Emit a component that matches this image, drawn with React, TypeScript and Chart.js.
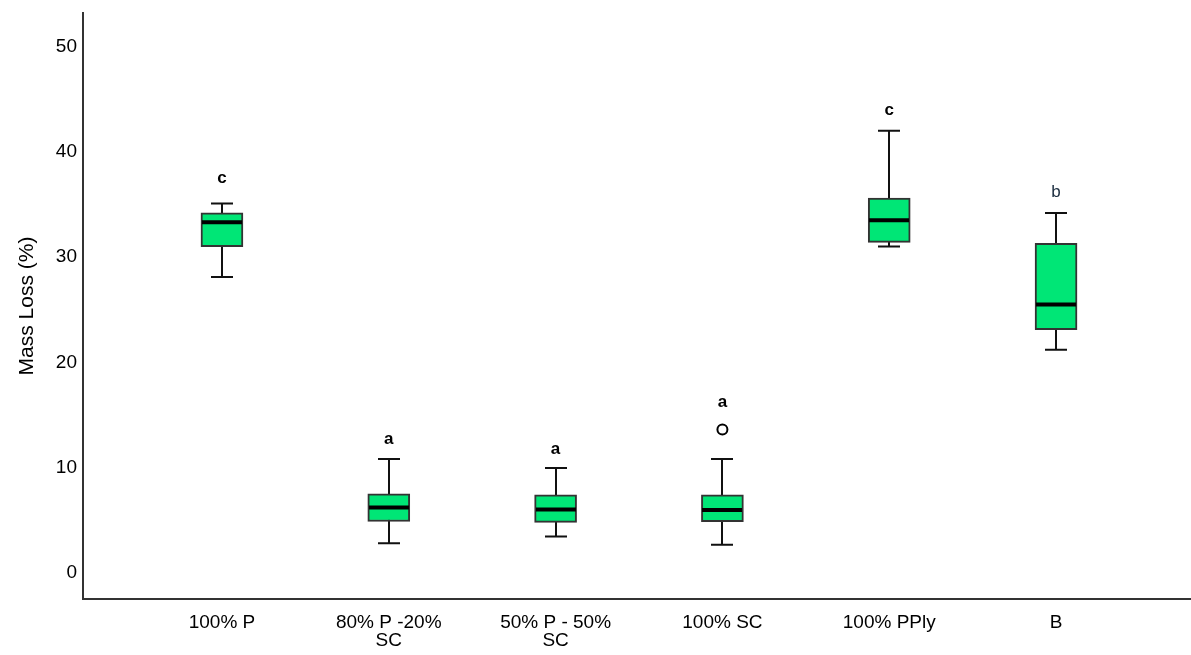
import React, { useEffect, useRef } from 'react';
import { Chart, registerables } from 'chart.js';

Chart.register(...registerables);

const categories: (string | string[])[] = [
  '100% P',
  ['80% P -20%', 'SC'],
  ['50% P - 50%', 'SC'],
  '100% SC',
  '100% PPly',
  'B',
];
const whiskerLow = [28.1, 2.8, 3.45, 2.65, 31.0, 21.2];
const q1 = [31.0, 4.87, 4.78, 4.84, 31.4, 23.1];
const median = [33.3, 6.2, 6.0, 5.95, 33.5, 25.5];
const q3 = [34.2, 7.5, 7.4, 7.4, 35.6, 31.3];
const whiskerHigh = [35.1, 10.8, 9.95, 10.8, 42.0, 34.2];
const outlierIndex = [3];
const outlierValue = [13.6];
const letters = ['c', 'a', 'a', 'a', 'c', 'b'];
const letterBold = [true, true, true, true, true, false];
const letterValue = [37.5, 12.7, 11.7, 16.2, 43.95, 36.2];
const yTicks = [0, 10, 20, 30, 40, 50];

const BOX_W = 42;
const CAP_W = 22;
const FONT = '"Liberation Sans", Arial, sans-serif';

const boxPlugin = {
  id: 'boxExtras',
  beforeDatasetsDraw(chart: any) {
    const { ctx, scales } = chart;
    const x = scales.x;
    const y = scales.y;
    ctx.save();
    ctx.strokeStyle = '#111';
    ctx.lineWidth = 2;
    categories.forEach((_, i) => {
      const cx = Math.round(x.getPixelForValue(i));
      const yl = y.getPixelForValue(whiskerLow[i]);
      const yh = y.getPixelForValue(whiskerHigh[i]);
      ctx.beginPath();
      ctx.moveTo(cx, yl);
      ctx.lineTo(cx, yh);
      ctx.moveTo(cx - CAP_W / 2, yl);
      ctx.lineTo(cx + CAP_W / 2, yl);
      ctx.moveTo(cx - CAP_W / 2, yh);
      ctx.lineTo(cx + CAP_W / 2, yh);
      ctx.stroke();
    });
    ctx.restore();
  },
  afterDatasetsDraw(chart: any) {
    const { ctx, scales } = chart;
    const x = scales.x;
    const y = scales.y;
    ctx.save();
    ctx.strokeStyle = '#000';
    ctx.lineWidth = 4;
    categories.forEach((_, i) => {
      const cx = Math.round(x.getPixelForValue(i));
      const ym = y.getPixelForValue(median[i]);
      ctx.beginPath();
      ctx.moveTo(cx - BOX_W / 2 + 1, ym);
      ctx.lineTo(cx + BOX_W / 2 - 1, ym);
      ctx.stroke();
    });
    ctx.textAlign = 'center';
    ctx.textBaseline = 'middle';
    letters.forEach((l, i) => {
      ctx.font = (letterBold[i] ? 'bold ' : '') + '17px ' + FONT;
      ctx.fillStyle = letterBold[i] ? '#000' : '#1b2d3f';
      ctx.fillText(l, x.getPixelForValue(i), y.getPixelForValue(letterValue[i]));
    });
    ctx.restore();
  },
};

export default function App() {
  const ref = useRef<HTMLCanvasElement | null>(null);
  useEffect(() => {
    if (!ref.current) return;
    const chart = new Chart(ref.current, {
      type: 'bar',
      data: {
        datasets: [
          {
            type: 'scatter',
            data: outlierIndex.map((xi, k) => ({ x: xi, y: outlierValue[k] })),
            pointStyle: 'circle',
            pointRadius: 5,
            pointBorderWidth: 2,
            pointBorderColor: '#000',
            pointBackgroundColor: '#fff',
            clip: false,
            order: 0,
          } as any,
          {
            type: 'bar',
            data: categories.map((_, i) => ({ x: i, y: [q1[i], q3[i]] })) as any,
            backgroundColor: '#00e676',
            borderColor: '#333',
            borderWidth: 2,
            borderSkipped: false,
            barThickness: BOX_W,
            grouped: false,
            order: 1,
          } as any,
        ],
      },
      options: {
        animation: false,
        responsive: true,
        maintainAspectRatio: false,
        layout: { autoPadding: false, padding: { top: 13, right: 1, left: 0, bottom: 0 } },
        plugins: {
          legend: { display: false },
          tooltip: { enabled: false },
        },
        scales: {
          x: {
            type: 'linear',
            offset: false,
            min: -0.833,
            max: 5.803,
            grid: { display: false, drawTicks: false, offset: false },
            border: { display: true, color: '#333', width: 2 },
            afterBuildTicks: (s: any) => {
              s.ticks = categories.map((_, i) => ({ value: i }));
            },
            afterFit: (s: any) => {
              s.height = 56;
              s.paddingLeft = 0;
              s.paddingRight = 0;
            },
            ticks: {
              autoSkip: false,
              maxRotation: 0,
              minRotation: 0,
              padding: 15,
              color: '#000',
              font: { family: FONT, size: 19, lineHeight: 0.95 },
              callback: (v: any) => categories[Math.round(Number(v))] as any,
            },
          },
          y: {
            type: 'linear',
            min: -2.5,
            max: 53.2,
            grid: { display: false, drawTicks: false },
            border: { display: true, color: '#333', width: 2 },
            afterBuildTicks: (s: any) => {
              s.ticks = yTicks.map((v) => ({ value: v }));
            },
            afterFit: (s: any) => {
              s.width = 83;
              s.paddingTop = 0;
              s.paddingBottom = 0;
            },
            ticks: {
              padding: 6,
              color: '#000',
              font: { family: FONT, size: 19 },
            },
            title: {
              display: true,
              text: 'Mass Loss (%)',
              color: '#000',
              padding: { top: 15, bottom: 0 },
              font: { family: FONT, size: 21, lineHeight: 1.2 },
            },
          },
        },
      },
      plugins: [boxPlugin],
    });
    return () => chart.destroy();
  }, []);
  return (
    <div style={{ position: 'fixed', left: 0, top: 0, width: 1191, height: 655, background: '#fff' }}>
      <canvas ref={ref} />
    </div>
  );
}
